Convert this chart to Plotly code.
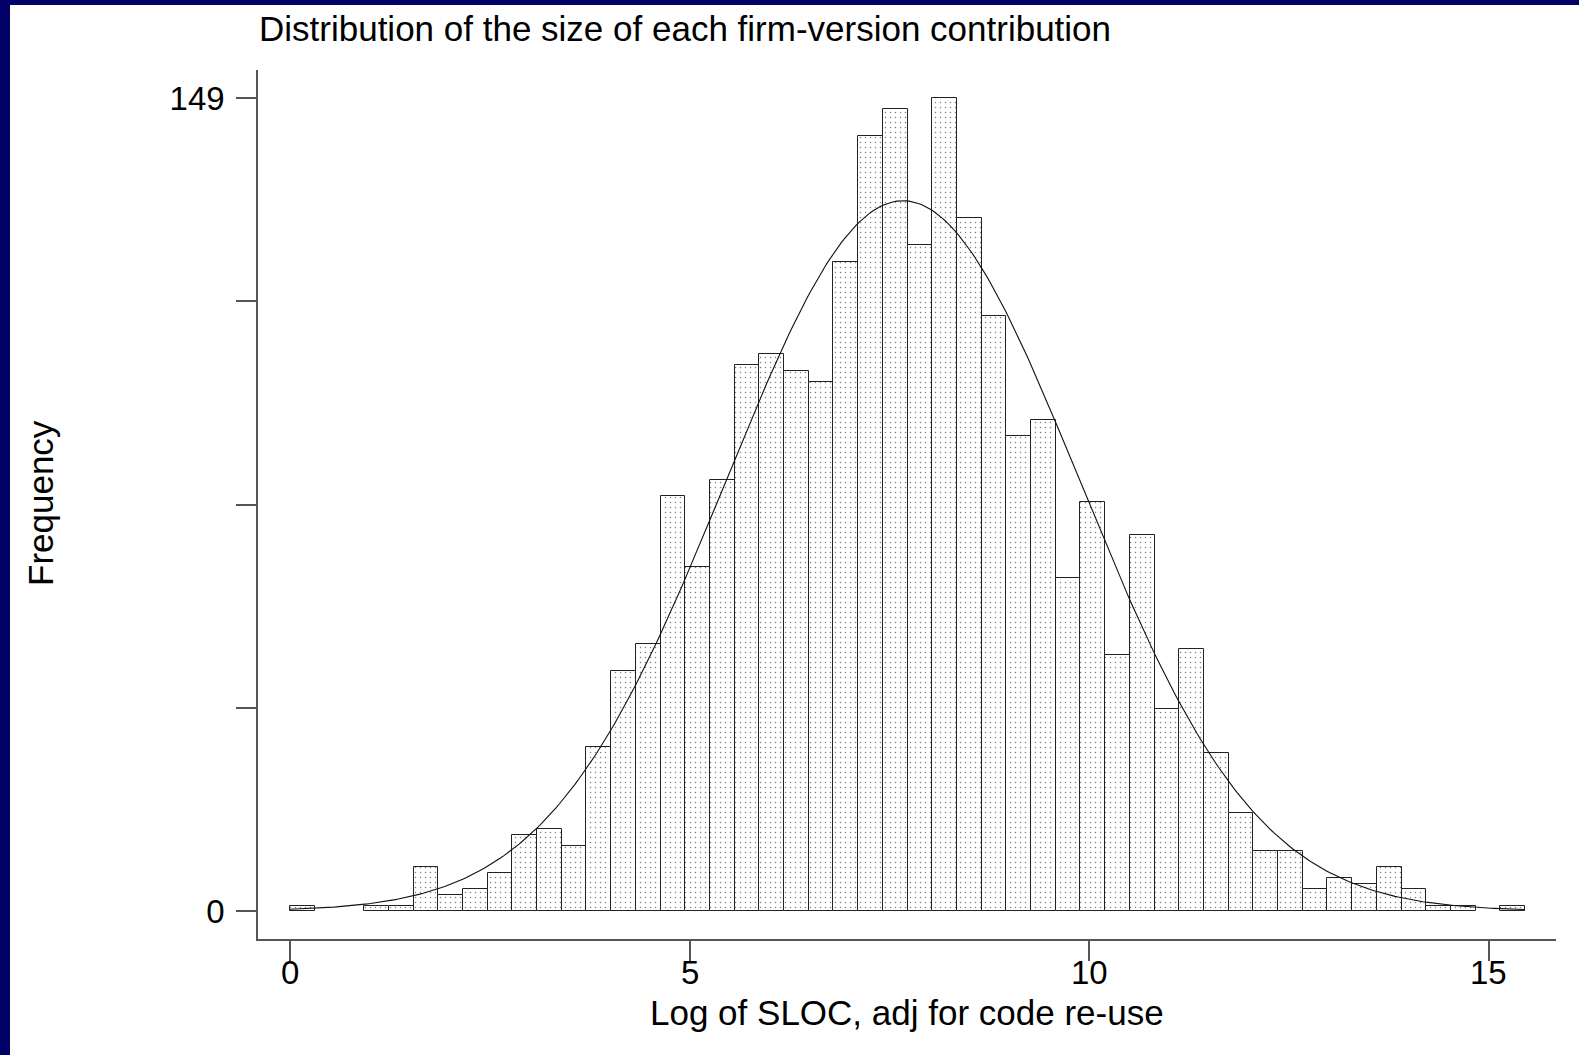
import numpy as np
import plotly.graph_objects as go

# ---- data ----
bin_start = 0.0
bin_width = 0.3091
counts = [1, 0, 0, 1, 1, 8, 3, 4, 7, 14,
          15, 12, 30, 44, 49, 76, 63, 79, 100, 102,
          99, 97, 119, 142, 147, 122, 149, 127, 109, 87,
          90, 61, 75, 47, 69, 37, 48, 29, 18, 11,
          11, 4, 6, 5, 8, 4, 1, 1, 0, 1]
normal_mean = 7.67
normal_sd = 2.21
x_tickvals = [0, 5, 10, 15]
x_ticktext = ["0", "5", "10", "15"]
y_max = 149
y_tickvals = [0, y_max / 4, y_max / 2, 3 * y_max / 4, y_max]
y_ticktext = ["0", "", "", "", "149"]

title_text = "Distribution of the size of each firm-version contribution"
x_title = "Log of SLOC, adj for code re-use"
y_title = "Frequency"

# ---- derived ----
n_bins = len(counts)
centers = [bin_start + bin_width * (i + 0.5) for i in range(n_bins)]
heights = [c if c > 0 else None for c in counts]
N = sum(counts)
x_lo = bin_start
x_hi = bin_start + bin_width * n_bins
xs = np.linspace(x_lo, x_hi, 400)
ys = N * bin_width / (normal_sd * np.sqrt(2 * np.pi)) * np.exp(-0.5 * ((xs - normal_mean) / normal_sd) ** 2)

W, H = 1579, 1055
ML, MR, MT, MB = 258, 23, 70, 116
PW = W - ML - MR
PH = H - MT - MB


def px(x):
    return (x - ML) / PW


def py(y):
    return (H - MB - y) / PH


FONT = "Liberation Sans, Arial, Helvetica, sans-serif"
NAVY = "#000066"
TITLE_SIZE = 35
TICK_SIZE = 33

fig = go.Figure()
fig.add_trace(go.Bar(
    x=centers, y=heights, width=bin_width,
    marker=dict(
        color="white",
        line=dict(color="#222222", width=1),
        pattern=dict(shape=".", fgcolor="black", bgcolor="white", size=5, solidity=0.07),
    ),
    showlegend=False, hoverinfo="skip",
))
fig.add_trace(go.Scatter(
    x=xs, y=ys, mode="lines", line=dict(color="#111111", width=1.1),
    showlegend=False, hoverinfo="skip",
))

ppu_x = 79.91
x0_px = 290
xr = [(ML - x0_px) / ppu_x, (W - MR - x0_px) / ppu_x]
ppu_y = (911 - 98) / y_max
y0_px = 911
yr = [-((H - MB) - y0_px) / ppu_y, (y0_px - MT) / ppu_y]

axis_common = dict(
    showline=True, linecolor="#555555", linewidth=1.5,
    ticks="outside", ticklen=20, tickwidth=1.5, tickcolor="#555555",
    showgrid=False, zeroline=False,
    tickfont=dict(family=FONT, size=TICK_SIZE, color="black"),
)
fig.update_xaxes(range=xr, tickmode="array", tickvals=x_tickvals,
                 showticklabels=False, **axis_common)
fig.update_yaxes(range=yr, tickmode="array", tickvals=y_tickvals, ticktext=y_ticktext,
                 ticklabelstandoff=5, **axis_common)

annotations = [
    dict(text=title_text, x=px(258), y=py(28), xanchor="left", yanchor="middle",
         font=dict(family=FONT, size=TITLE_SIZE, color="black")),
    dict(text=y_title, x=px(40), y=py(503), xanchor="center", yanchor="middle", textangle=-90,
         font=dict(family=FONT, size=TITLE_SIZE, color="black")),
    dict(text=x_title, x=px(907), y=py(1012), xanchor="center", yanchor="middle",
         font=dict(family=FONT, size=TITLE_SIZE, color="black")),
]
for a in annotations:
    a.update(xref="paper", yref="paper")
for v, t in zip(x_tickvals, x_ticktext):
    annotations.append(dict(text=t, x=v, xref="x", y=py(973), yref="paper",
                            xanchor="center", yanchor="middle",
                            font=dict(family=FONT, size=TICK_SIZE, color="black")))
for a in annotations:
    a.update(showarrow=False, borderpad=0)

shapes = [
    dict(type="rect", xref="paper", yref="paper", x0=px(0), x1=px(10), y0=py(H), y1=py(0),
         fillcolor=NAVY, line=dict(width=0)),
    dict(type="rect", xref="paper", yref="paper", x0=px(0), x1=px(W), y0=py(5), y1=py(0),
         fillcolor=NAVY, line=dict(width=0)),
]

fig.update_layout(
    width=W, height=H, autosize=False,
    margin=dict(l=ML, r=MR, t=MT, b=MB, pad=0),
    paper_bgcolor="white", plot_bgcolor="white",
    bargap=0,
    annotations=annotations, shapes=shapes,
    font=dict(family=FONT, size=TICK_SIZE, color="black"),
)

fig.write_html("out.html")
